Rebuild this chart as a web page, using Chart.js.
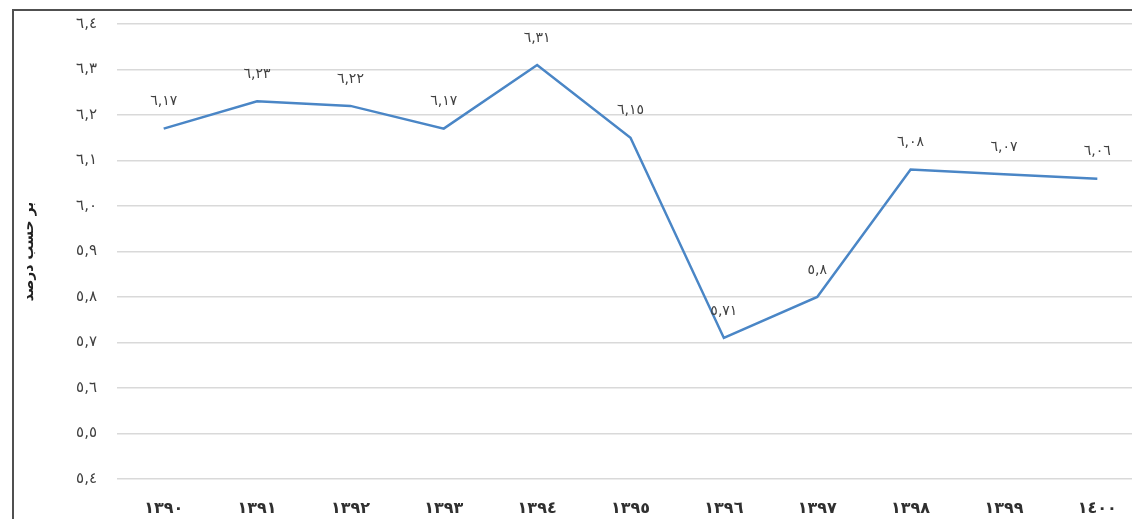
<!DOCTYPE html>
<html>
<head>
<meta charset="utf-8">
<script src="https://cdn.jsdelivr.net/npm/chart.js@4/dist/chart.umd.min.js"></script>
<style>
  html, body { margin: 0; padding: 0; background: #fff; overflow: hidden; width: 1132px; height: 519px; }
  #frame { position: absolute; left: 12px; top: 9px; width: 1140px; height: 520px; border-left: 2px solid #505050; border-top: 2px solid #505050; }
  #wrap { position: absolute; left: 0; top: 0; width: 1130px; height: 508px; }
</style>
</head>
<body>
<div id="frame"><div id="wrap"><canvas id="c"></canvas></div></div>
<script>
const categories = ['١٣٩٠','١٣٩١','١٣٩٢','١٣٩٣','١٣٩٤','١٣٩٥','١٣٩٦','١٣٩٧','١٣٩٨','١٣٩٩','١٤٠٠'];
const values = [6.17, 6.23, 6.22, 6.17, 6.31, 6.15, 5.71, 5.8, 6.08, 6.07, 6.06];
const yAxisTitle = 'بر حسب درصد';
const yMin = 5.4, yMax = 6.4, yStep = 0.1;

const arabicDigits = ['٠','١','٢','٣','٤','٥','٦','٧','٨','٩'];
function toArabic(str) {
  return String(str).replace(/[0-9]/g, d => arabicDigits[+d]).replace('.', ',');
}
function fmtTick(v) { return toArabic((Math.round(v * 10) / 10).toFixed(1)); }
function fmtVal(v) { return toArabic(String(v)); }

const labelPlugin = {
  id: 'pointLabels',
  afterDatasetsDraw(chart) {
    const ctx = chart.ctx;
    const meta = chart.getDatasetMeta(0);
    ctx.save();
    ctx.font = '14px "DejaVu Sans"';
    ctx.fillStyle = '#404040';
    ctx.textAlign = 'center';
    ctx.textBaseline = 'middle';
    ctx.direction = 'ltr';
    meta.data.forEach((pt, i) => {
      ctx.fillText(fmtVal(values[i]), pt.x, pt.y - 27);
    });
    ctx.restore();
  }
};

new Chart(document.getElementById('c'), {
  type: 'line',
  data: {
    labels: categories,
    datasets: [{
      data: values,
      borderColor: '#4a86c6',
      borderWidth: 2.5,
      pointRadius: 0,
      tension: 0,
      fill: false
    }]
  },
  options: {
    responsive: true,
    maintainAspectRatio: false,
    animation: false,
    layout: { padding: { top: 13, right: 0, left: 0, bottom: 0 } },
    plugins: { legend: { display: false }, tooltip: { enabled: false } },
    scales: {
      x: {
        offset: true,
        grid: { display: false, drawTicks: false },
        border: { display: false },
        ticks: { font: { family: 'DejaVu Sans', size: 16, weight: 'bold' }, color: '#303030', padding: 20, maxRotation: 0 },
        afterFit(s) { s.height = 40; s.paddingLeft = 0; s.paddingRight = 0; }
      },
      y: {
        min: yMin, max: yMax,
        grid: { color: '#d9d9d9', lineWidth: 1.5, drawTicks: false },
        border: { display: false },
        ticks: { stepSize: yStep, callback: v => fmtTick(v), font: { family: 'DejaVu Sans', size: 15 }, color: '#404040', padding: 20 },
        title: { display: true, text: yAxisTitle, font: { family: 'DejaVu Sans', size: 14, weight: 'bold' }, color: '#202020', padding: { top: 7, bottom: 0 } },
        afterFit(s) { s.width = 103; s.paddingTop = 0; s.paddingBottom = 0; }
      }
    }
  },
  plugins: [labelPlugin]
});
</script>
</body>
</html>
